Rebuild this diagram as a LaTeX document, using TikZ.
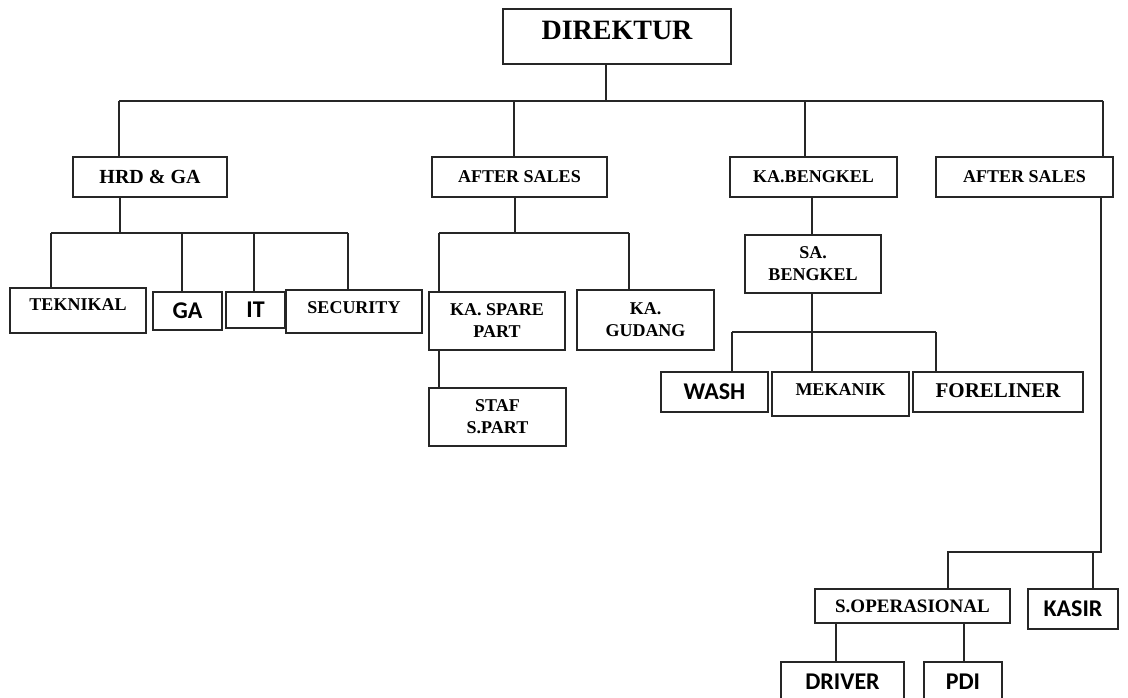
\documentclass[tikz,border=0pt]{standalone}
\usepackage{fontspec}
\setmainfont{Liberation Serif}
\newfontfamily\sansbold{Carlito}
\begin{document}
\begin{tikzpicture}[x=1pt,y=-1pt,
  box/.style={draw=black!85, line width=1.6pt, inner sep=0pt, anchor=center, align=center},
  serif/.style={font=\bfseries\fontsize{18}{22}\selectfont},
  sansb/.style={font=\sansbold\bfseries\fontsize{24}{28}\selectfont},
  conn/.style={draw=black!85, line width=1.6pt}]
\useasboundingbox (0,0) rectangle (1128,698);
\clip (0,0) rectangle (1128,698);
\fill[white] (0,0) rectangle (1128,698);

% boxes
\node[box, font=\bfseries\fontsize{28}{32}\selectfont, minimum width=228pt, minimum height=55pt, text height=18.5pt, text depth=11.5pt] (DIR) at (617,36.5) {DIREKTUR};
\node[box, font=\bfseries\fontsize{20}{24}\selectfont, minimum width=154pt, minimum height=40pt] (HRD) at (150,177) {HRD \& GA};
\node[box, serif, minimum width=175pt, minimum height=40pt] (AS1) at (519.5,177) {AFTER SALES};
\node[box, serif, minimum width=167pt, minimum height=40pt] (KAB) at (813.5,177) {KA.BENGKEL};
\node[box, serif, minimum width=177pt, minimum height=40pt] (AS2) at (1024.5,177) {AFTER SALES};

\node[box, serif, minimum width=136pt, minimum height=45pt, text height=12pt, text depth=12pt] (TEK) at (78,310.5) {TEKNIKAL};
\node[box, sansb, minimum width=69pt, minimum height=38pt] (GA) at (187.5,311) {GA};
\node[box, sansb, minimum width=59pt, minimum height=36pt] (IT) at (255.5,310) {IT};
\node[box, serif, minimum width=136pt, minimum height=43pt, text height=12pt, text depth=8pt] (SEC) at (354,311.5) {SECURITY};

\node[box, serif, minimum width=136pt, minimum height=58pt] (KSP) at (497,321) {KA. SPARE\\PART};
\node[box, serif, minimum width=137pt, minimum height=60pt] (KGD) at (645.5,320) {KA.\\GUDANG};
\node[box, serif, minimum width=137pt, minimum height=58pt] (STAF) at (497.5,417) {STAF\\S.PART};

\node[box, serif, minimum width=136pt, minimum height=58pt] (SAB) at (813,264) {SA.\\BENGKEL};
\node[box, sansb, minimum width=107pt, minimum height=40pt] (WASH) at (714.5,392) {WASH};
\node[box, serif, minimum width=137pt, minimum height=44pt, text height=12pt, text depth=10pt] (MEK) at (840.5,394) {MEKANIK};
\node[box, font=\bfseries\fontsize{21}{25}\selectfont, minimum width=170pt, minimum height=40pt, text height=14pt, text depth=4pt] (FOR) at (998,392) {FORELINER};

\node[box, font=\bfseries\fontsize{19}{23}\selectfont, minimum width=195pt, minimum height=34pt] (SOP) at (912.5,606) {S.OPERASIONAL};
\node[box, sansb, minimum width=90pt, minimum height=40pt] (KAS) at (1073,609) {KASIR};
\node[box, sansb, minimum width=123pt, minimum height=42pt, text height=15.5pt, text depth=3.5pt] (DRV) at (842.5,683) {DRIVER};
\node[box, sansb, minimum width=78pt, minimum height=42pt, text height=15.5pt, text depth=3.5pt] (PDI) at (963,683) {PDI};

% junction coordinates
\coordinate (t1) at (119,101);
\coordinate (t2) at (514,101);
\coordinate (t3) at (606,101);
\coordinate (t4) at (805,101);
\coordinate (t5) at (1103,101);
\coordinate (h0) at (120,233);
\coordinate (h1) at (51,233);
\coordinate (h2) at (182,233);
\coordinate (h3) at (254,233);
\coordinate (h4) at (348,233);
\coordinate (a0) at (515,233);
\coordinate (a1) at (439,233);
\coordinate (a2) at (629,233);
\coordinate (s0) at (812,332);
\coordinate (s1) at (732,332);
\coordinate (s3) at (936,332);
\coordinate (r0) at (1101,552);
\coordinate (r1) at (948,552);
\coordinate (r2) at (1093,552);
\coordinate (q1) at (836,640);
\coordinate (q2) at (964,640);

% connectors
\draw[conn] (t1) -- (t5);
\draw[conn] (DIR.south -| t3) -- (t3);
\draw[conn] (t1) -- (HRD.north -| t1);
\draw[conn] (t2) -- (AS1.north -| t2);
\draw[conn] (t4) -- (KAB.north -| t4);
\draw[conn] (t5) -- (AS2.north -| t5);

\draw[conn] (HRD.south -| h0) -- (h0);
\draw[conn] (h1) -- (h4);
\draw[conn] (h1) -- (TEK.north -| h1);
\draw[conn] (h2) -- (GA.north -| h2);
\draw[conn] (h3) -- (IT.north -| h3);
\draw[conn] (h4) -- (SEC.north -| h4);

\draw[conn] (AS1.south -| a0) -- (a0);
\draw[conn] (a1) -- (a2);
\draw[conn] (a1) -- (KSP.north -| a1);
\draw[conn] (a2) -- (KGD.north -| a2);
\draw[conn] (KSP.south -| a1) -- (STAF.north -| a1);

\draw[conn] (KAB.south -| s0) -- (SAB.north -| s0);
\draw[conn] (SAB.south -| s0) -- (s0);
\draw[conn] (s1) -- (s3);
\draw[conn] (s1) -- (WASH.north -| s1);
\draw[conn] (s0) -- (MEK.north -| s0);
\draw[conn] (s3) -- (FOR.north -| s3);

\draw[conn] (AS2.south -| r0) -- (r0) -- (r1) -- (SOP.north -| r1);
\draw[conn] (r2) -- (KAS.north -| r2);
\draw[conn] (SOP.south -| q1) -- (DRV.north -| q1);
\draw[conn] (SOP.south -| q2) -- (PDI.north -| q2);
\end{tikzpicture}
\end{document}
